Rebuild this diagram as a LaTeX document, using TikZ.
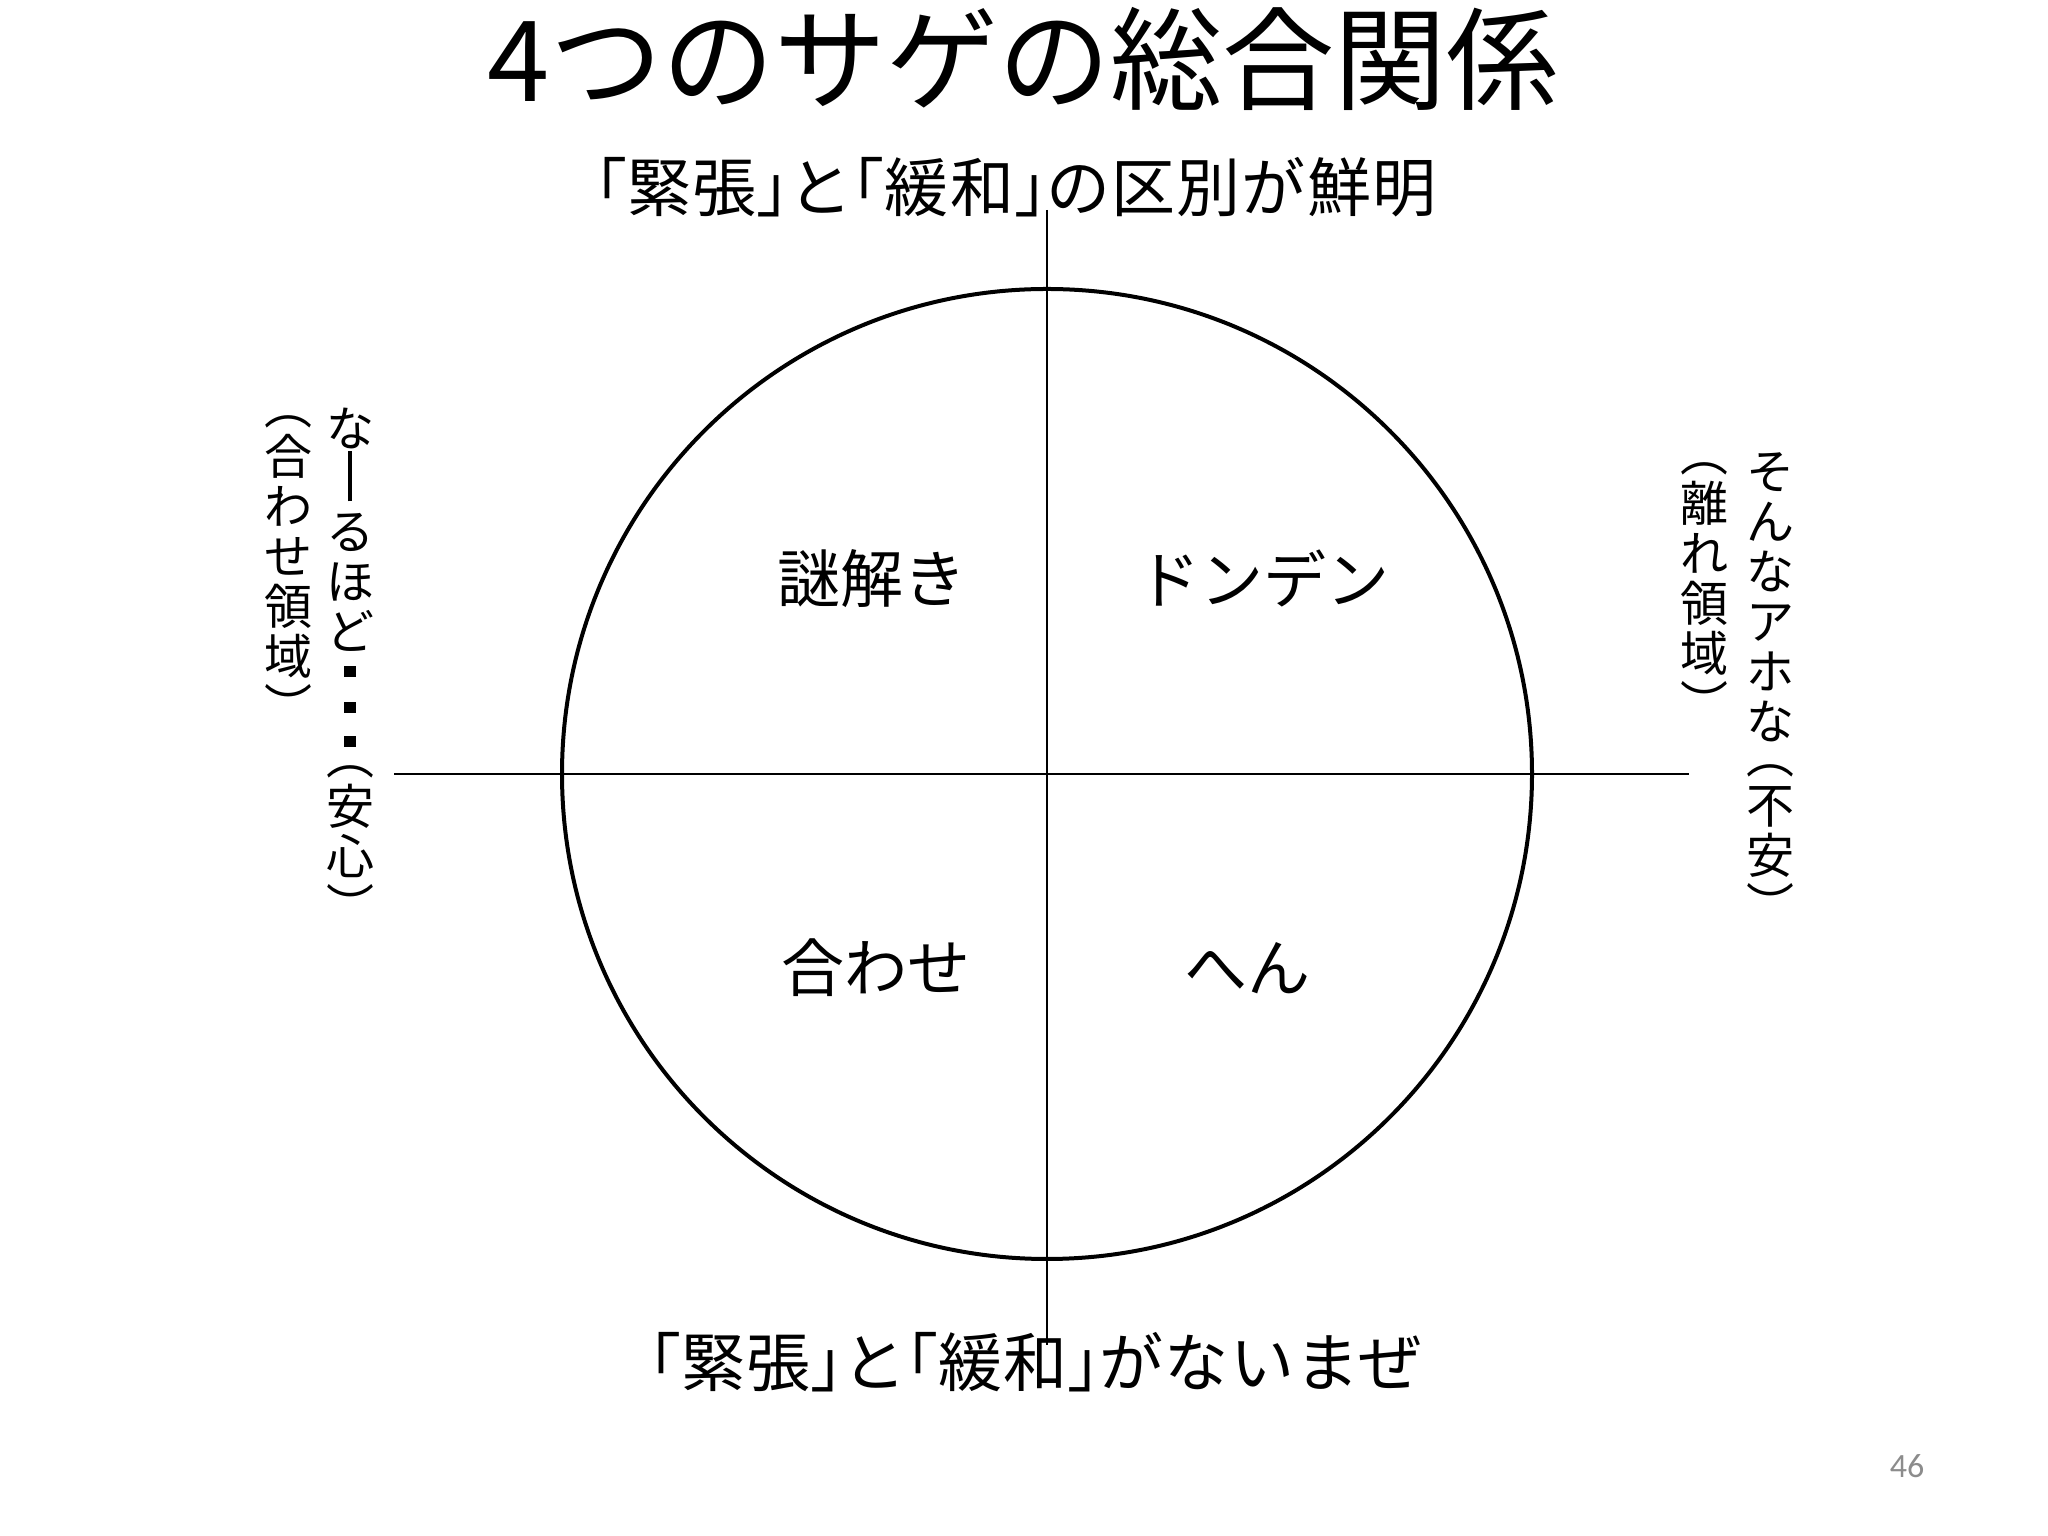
\documentclass[tikz,border=0pt]{standalone}
\usepackage{fontspec}
\setmainfont{Noto Sans CJK JP}
\newfontfamily\headfont[LetterSpace=2.0]{Noto Sans CJK JP}
\newfontfamily\halffont[LetterSpace=2.0,RawFeature=+halt]{Noto Sans CJK JP}
\newfontfamily\pagenofont{Carlito}
\newcommand{\kl}{{\halffont 「}}
\newcommand{\kr}{{\halffont 」}}
\newcommand{\tbar}{\rule[-1bp]{2.2bp}{25bp}}
\newcommand{\tlp}{︵}
\newcommand{\trp}{︶}
\newcommand{\tdot}{\rule[0.27em]{0.24em}{0.24em}}
\definecolor{pagecol}{rgb}{0.55,0.55,0.55}
\tikzset{
  quadlabel/.style={draw=none,font=\fontsize{31.5bp}{31.5bp}\selectfont},
  headlabel/.style={draw=none,font=\headfont\fontsize{32bp}{32bp}\selectfont},
  tatelabel/.style={draw=none,anchor=north,align=center,inner sep=0pt,font=\fontsize{24bp}{25bp}\selectfont},
}
\begin{document}
\begin{tikzpicture}[line join=bevel,]
%%
\begin{scope}
  \definecolor{fillcol}{rgb}{1.0,1.0,1.0};
  \fill [fillcol] (0bp,0bp) -- (0bp,768bp) -- (1024bp,768bp) -- (1024bp,0bp) -- cycle;
\end{scope}
  \node (title) at (511.5bp,738.5bp) [draw=none,font=\fontsize{56bp}{56bp}\selectfont] {4つのサゲの総合関係};
  \node (senmei) at (508bp,674.5bp) [headlabel] {\kl 緊張\kr と\kl 緩和\kr の区別が鮮明};
  \node (mazeru) at (518bp,86.8bp) [headlabel] {\kl 緊張\kr と\kl 緩和\kr がないまぜ};
%
  \coordinate (center) at (523.5bp,381bp);
  \coordinate (vtop) at (523.5bp,663bp);
  \coordinate (vbot) at (523.5bp,95.5bp);
  \coordinate (hleft) at (197bp,381bp);
  \coordinate (hright) at (844.5bp,381bp);
  \draw [line width=0.75bp] (vtop) -- (vbot);
  \draw [line width=0.75bp] (hleft) -- (hright);
  \draw [line width=2bp] (center) circle (242.5bp);
%
  \node (nazotoki) at (436bp,478.7bp) [quadlabel] {謎解き};
  \node (donden) at (631.5bp,478.7bp) [quadlabel] {ドンデン};
  \node (awase) at (438bp,284bp) [quadlabel] {合わせ};
  \node (hen) at (623.6bp,284bp) [quadlabel] {へん};
%
  \node (naruhodo) at (175bp,564bp) [tatelabel] {な\\\tbar\\る\\ほ\\ど\\[-4.5bp]\tdot\\[-7bp]\tdot\\[-8bp]\tdot\\[-18bp]\tlp\\安\\心\\\trp};
  \node (awaseryoiki) at (144bp,560.5bp) [tatelabel] {\tlp\\合\\わ\\せ\\領\\域\\\trp};
  \node (sonna) at (885bp,542bp) [tatelabel] {そ\\ん\\な\\ア\\ホ\\な\\[-8bp]\tlp\\不\\安\\\trp};
  \node (hanareryoiki) at (852bp,537bp) [tatelabel] {\tlp\\離\\れ\\領\\域\\\trp};
%
  \node (pageno) at (953.5bp,35bp) [draw=none,text=pagecol,font=\pagenofont\fontsize{17bp}{17bp}\selectfont] {46};
%
\end{tikzpicture}
\end{document}
